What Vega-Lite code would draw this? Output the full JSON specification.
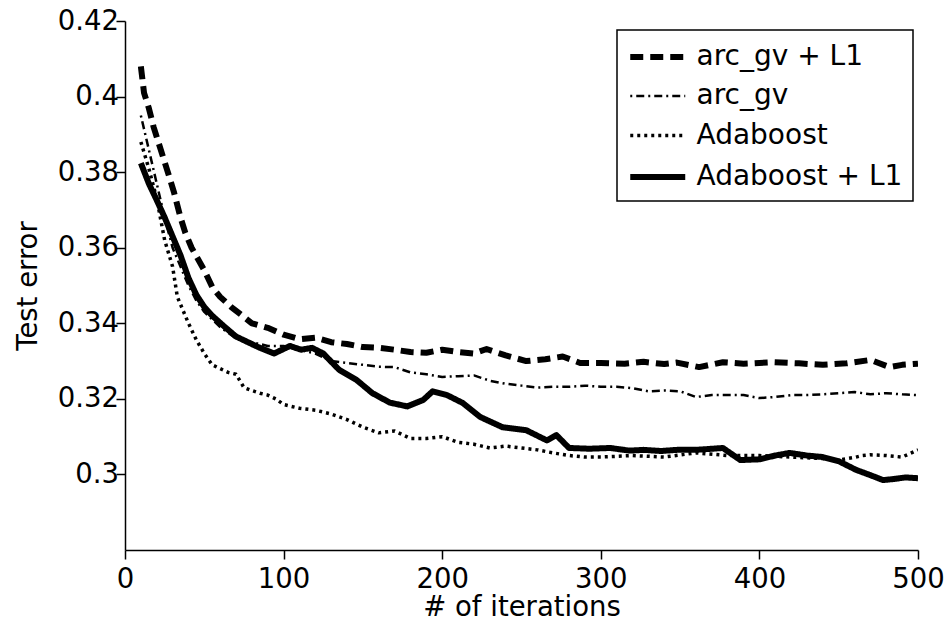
{
  "$schema": "https://vega.github.io/schema/vega-lite/v6.json",
  "width": 793,
  "height": 529,
  "autosize": "none",
  "padding": {"left": 125, "top": 21, "right": 31, "bottom": 71},
  "background": "white",
  "config": {
    "view": {"stroke": null},
    "font": "DejaVu Sans",
    "axis": {
      "grid": false,
      "domainColor": "black",
      "domainWidth": 1.5,
      "tickColor": "black",
      "tickWidth": 1.5,
      "tickSize": 9,
      "labelFlush": false,
      "labelFont": "DejaVu Sans",
      "labelFontSize": 27.5,
      "labelColor": "black",
      "titleFont": "DejaVu Sans",
      "titleFontSize": 27.5,
      "titleFontWeight": "normal",
      "titleColor": "black"
    },
    "legend": {
      "orient": "none",
      "legendX": 492,
      "legendY": 9,
      "title": null,
      "symbolType": "M-1,0H3",
      "symbolSize": 756,
      "symbolStrokeColor": "black",
      "symbolFillColor": "transparent",
      "labelFont": "DejaVu Sans",
      "labelFontSize": 28,
      "labelColor": "black",
      "labelLimit": 500,
      "labelOffset": 35.5,
      "rowPadding": 10,
      "padding": 10,
      "strokeColor": "black",
      "strokeWidth": 1.5,
      "fillColor": "white",
      "cornerRadius": 0
    }
  },
  "data": {
    "values": [
      {"series": "arc_gv + L1", "iter": 10, "err": 0.408},
      {"series": "arc_gv + L1", "iter": 12, "err": 0.401},
      {"series": "arc_gv + L1", "iter": 15, "err": 0.397},
      {"series": "arc_gv + L1", "iter": 18, "err": 0.392},
      {"series": "arc_gv + L1", "iter": 21, "err": 0.388},
      {"series": "arc_gv + L1", "iter": 24, "err": 0.384},
      {"series": "arc_gv + L1", "iter": 27, "err": 0.380},
      {"series": "arc_gv + L1", "iter": 31, "err": 0.3745},
      {"series": "arc_gv + L1", "iter": 35, "err": 0.368},
      {"series": "arc_gv + L1", "iter": 38, "err": 0.364},
      {"series": "arc_gv + L1", "iter": 42, "err": 0.360},
      {"series": "arc_gv + L1", "iter": 46, "err": 0.357},
      {"series": "arc_gv + L1", "iter": 50, "err": 0.354},
      {"series": "arc_gv + L1", "iter": 55, "err": 0.3496},
      {"series": "arc_gv + L1", "iter": 60, "err": 0.347},
      {"series": "arc_gv + L1", "iter": 67, "err": 0.3443},
      {"series": "arc_gv + L1", "iter": 74, "err": 0.342},
      {"series": "arc_gv + L1", "iter": 80, "err": 0.340},
      {"series": "arc_gv + L1", "iter": 90, "err": 0.3388},
      {"series": "arc_gv + L1", "iter": 100, "err": 0.337},
      {"series": "arc_gv + L1", "iter": 110, "err": 0.3358},
      {"series": "arc_gv + L1", "iter": 120, "err": 0.3362},
      {"series": "arc_gv + L1", "iter": 130, "err": 0.335},
      {"series": "arc_gv + L1", "iter": 140, "err": 0.3345},
      {"series": "arc_gv + L1", "iter": 150, "err": 0.3337},
      {"series": "arc_gv + L1", "iter": 160, "err": 0.3335},
      {"series": "arc_gv + L1", "iter": 170, "err": 0.333},
      {"series": "arc_gv + L1", "iter": 180, "err": 0.3324},
      {"series": "arc_gv + L1", "iter": 190, "err": 0.3322},
      {"series": "arc_gv + L1", "iter": 200, "err": 0.333},
      {"series": "arc_gv + L1", "iter": 210, "err": 0.3324},
      {"series": "arc_gv + L1", "iter": 220, "err": 0.332},
      {"series": "arc_gv + L1", "iter": 228, "err": 0.3332},
      {"series": "arc_gv + L1", "iter": 240, "err": 0.3315},
      {"series": "arc_gv + L1", "iter": 253, "err": 0.330},
      {"series": "arc_gv + L1", "iter": 265, "err": 0.3305},
      {"series": "arc_gv + L1", "iter": 276, "err": 0.3312},
      {"series": "arc_gv + L1", "iter": 287, "err": 0.3295},
      {"series": "arc_gv + L1", "iter": 300, "err": 0.3295},
      {"series": "arc_gv + L1", "iter": 315, "err": 0.3293},
      {"series": "arc_gv + L1", "iter": 327, "err": 0.3298},
      {"series": "arc_gv + L1", "iter": 340, "err": 0.3292},
      {"series": "arc_gv + L1", "iter": 348, "err": 0.3296},
      {"series": "arc_gv + L1", "iter": 362, "err": 0.3284},
      {"series": "arc_gv + L1", "iter": 377, "err": 0.3297},
      {"series": "arc_gv + L1", "iter": 390, "err": 0.3293},
      {"series": "arc_gv + L1", "iter": 409, "err": 0.3297},
      {"series": "arc_gv + L1", "iter": 425, "err": 0.3294},
      {"series": "arc_gv + L1", "iter": 440, "err": 0.329},
      {"series": "arc_gv + L1", "iter": 455, "err": 0.3294},
      {"series": "arc_gv + L1", "iter": 470, "err": 0.3303},
      {"series": "arc_gv + L1", "iter": 482, "err": 0.3284},
      {"series": "arc_gv + L1", "iter": 490, "err": 0.329},
      {"series": "arc_gv + L1", "iter": 500, "err": 0.3293},

      {"series": "arc_gv", "iter": 10, "err": 0.395},
      {"series": "arc_gv", "iter": 15, "err": 0.386},
      {"series": "arc_gv", "iter": 20, "err": 0.377},
      {"series": "arc_gv", "iter": 25, "err": 0.368},
      {"series": "arc_gv", "iter": 30, "err": 0.360},
      {"series": "arc_gv", "iter": 35, "err": 0.355},
      {"series": "arc_gv", "iter": 40, "err": 0.350},
      {"series": "arc_gv", "iter": 45, "err": 0.346},
      {"series": "arc_gv", "iter": 50, "err": 0.343},
      {"series": "arc_gv", "iter": 60, "err": 0.339},
      {"series": "arc_gv", "iter": 70, "err": 0.336},
      {"series": "arc_gv", "iter": 80, "err": 0.335},
      {"series": "arc_gv", "iter": 90, "err": 0.334},
      {"series": "arc_gv", "iter": 100, "err": 0.334},
      {"series": "arc_gv", "iter": 110, "err": 0.333},
      {"series": "arc_gv", "iter": 120, "err": 0.332},
      {"series": "arc_gv", "iter": 130, "err": 0.330},
      {"series": "arc_gv", "iter": 140, "err": 0.3295},
      {"series": "arc_gv", "iter": 150, "err": 0.329},
      {"series": "arc_gv", "iter": 160, "err": 0.3285},
      {"series": "arc_gv", "iter": 170, "err": 0.3284},
      {"series": "arc_gv", "iter": 180, "err": 0.327},
      {"series": "arc_gv", "iter": 190, "err": 0.3265},
      {"series": "arc_gv", "iter": 200, "err": 0.3258},
      {"series": "arc_gv", "iter": 210, "err": 0.326},
      {"series": "arc_gv", "iter": 220, "err": 0.3262},
      {"series": "arc_gv", "iter": 230, "err": 0.3248},
      {"series": "arc_gv", "iter": 240, "err": 0.324},
      {"series": "arc_gv", "iter": 250, "err": 0.3235},
      {"series": "arc_gv", "iter": 260, "err": 0.323},
      {"series": "arc_gv", "iter": 270, "err": 0.3232},
      {"series": "arc_gv", "iter": 280, "err": 0.3232},
      {"series": "arc_gv", "iter": 290, "err": 0.3235},
      {"series": "arc_gv", "iter": 300, "err": 0.3232},
      {"series": "arc_gv", "iter": 310, "err": 0.3232},
      {"series": "arc_gv", "iter": 320, "err": 0.3228},
      {"series": "arc_gv", "iter": 330, "err": 0.322},
      {"series": "arc_gv", "iter": 340, "err": 0.3222},
      {"series": "arc_gv", "iter": 350, "err": 0.322},
      {"series": "arc_gv", "iter": 360, "err": 0.3205},
      {"series": "arc_gv", "iter": 370, "err": 0.321},
      {"series": "arc_gv", "iter": 380, "err": 0.321},
      {"series": "arc_gv", "iter": 390, "err": 0.321},
      {"series": "arc_gv", "iter": 400, "err": 0.3202},
      {"series": "arc_gv", "iter": 410, "err": 0.3205},
      {"series": "arc_gv", "iter": 420, "err": 0.321},
      {"series": "arc_gv", "iter": 430, "err": 0.321},
      {"series": "arc_gv", "iter": 440, "err": 0.3212},
      {"series": "arc_gv", "iter": 450, "err": 0.3215},
      {"series": "arc_gv", "iter": 460, "err": 0.3218},
      {"series": "arc_gv", "iter": 470, "err": 0.3212},
      {"series": "arc_gv", "iter": 480, "err": 0.3215},
      {"series": "arc_gv", "iter": 490, "err": 0.3212},
      {"series": "arc_gv", "iter": 500, "err": 0.321},

      {"series": "Adaboost", "iter": 10, "err": 0.388},
      {"series": "Adaboost", "iter": 15, "err": 0.381},
      {"series": "Adaboost", "iter": 20, "err": 0.373},
      {"series": "Adaboost", "iter": 25, "err": 0.362},
      {"series": "Adaboost", "iter": 30, "err": 0.355},
      {"series": "Adaboost", "iter": 33, "err": 0.347},
      {"series": "Adaboost", "iter": 36, "err": 0.344},
      {"series": "Adaboost", "iter": 40, "err": 0.340},
      {"series": "Adaboost", "iter": 45, "err": 0.3356},
      {"series": "Adaboost", "iter": 50, "err": 0.332},
      {"series": "Adaboost", "iter": 55, "err": 0.329},
      {"series": "Adaboost", "iter": 60, "err": 0.328},
      {"series": "Adaboost", "iter": 65, "err": 0.327},
      {"series": "Adaboost", "iter": 70, "err": 0.3265},
      {"series": "Adaboost", "iter": 75, "err": 0.323},
      {"series": "Adaboost", "iter": 80, "err": 0.3222},
      {"series": "Adaboost", "iter": 85, "err": 0.3215},
      {"series": "Adaboost", "iter": 90, "err": 0.321},
      {"series": "Adaboost", "iter": 95, "err": 0.320},
      {"series": "Adaboost", "iter": 100, "err": 0.3185},
      {"series": "Adaboost", "iter": 110, "err": 0.3175},
      {"series": "Adaboost", "iter": 120, "err": 0.317},
      {"series": "Adaboost", "iter": 130, "err": 0.316},
      {"series": "Adaboost", "iter": 140, "err": 0.3145},
      {"series": "Adaboost", "iter": 150, "err": 0.3125},
      {"series": "Adaboost", "iter": 160, "err": 0.311},
      {"series": "Adaboost", "iter": 170, "err": 0.3115},
      {"series": "Adaboost", "iter": 180, "err": 0.3095},
      {"series": "Adaboost", "iter": 190, "err": 0.3095},
      {"series": "Adaboost", "iter": 200, "err": 0.310},
      {"series": "Adaboost", "iter": 210, "err": 0.3085},
      {"series": "Adaboost", "iter": 220, "err": 0.308},
      {"series": "Adaboost", "iter": 230, "err": 0.307},
      {"series": "Adaboost", "iter": 240, "err": 0.3075},
      {"series": "Adaboost", "iter": 250, "err": 0.307},
      {"series": "Adaboost", "iter": 260, "err": 0.3065},
      {"series": "Adaboost", "iter": 270, "err": 0.3057},
      {"series": "Adaboost", "iter": 280, "err": 0.305},
      {"series": "Adaboost", "iter": 290, "err": 0.3046},
      {"series": "Adaboost", "iter": 300, "err": 0.3046},
      {"series": "Adaboost", "iter": 320, "err": 0.305},
      {"series": "Adaboost", "iter": 340, "err": 0.3046},
      {"series": "Adaboost", "iter": 360, "err": 0.3057},
      {"series": "Adaboost", "iter": 380, "err": 0.305},
      {"series": "Adaboost", "iter": 400, "err": 0.305},
      {"series": "Adaboost", "iter": 420, "err": 0.3046},
      {"series": "Adaboost", "iter": 440, "err": 0.3042},
      {"series": "Adaboost", "iter": 450, "err": 0.3038},
      {"series": "Adaboost", "iter": 460, "err": 0.3045},
      {"series": "Adaboost", "iter": 465, "err": 0.305},
      {"series": "Adaboost", "iter": 470, "err": 0.3052},
      {"series": "Adaboost", "iter": 480, "err": 0.305},
      {"series": "Adaboost", "iter": 490, "err": 0.3046},
      {"series": "Adaboost", "iter": 500, "err": 0.3065},

      {"series": "Adaboost + L1", "iter": 10, "err": 0.3824},
      {"series": "Adaboost + L1", "iter": 15, "err": 0.377},
      {"series": "Adaboost + L1", "iter": 20, "err": 0.3726},
      {"series": "Adaboost + L1", "iter": 25, "err": 0.368},
      {"series": "Adaboost + L1", "iter": 30, "err": 0.363},
      {"series": "Adaboost + L1", "iter": 35, "err": 0.358},
      {"series": "Adaboost + L1", "iter": 40, "err": 0.352},
      {"series": "Adaboost + L1", "iter": 45, "err": 0.3475},
      {"series": "Adaboost + L1", "iter": 50, "err": 0.3443},
      {"series": "Adaboost + L1", "iter": 55, "err": 0.342},
      {"series": "Adaboost + L1", "iter": 63, "err": 0.339},
      {"series": "Adaboost + L1", "iter": 70, "err": 0.3365},
      {"series": "Adaboost + L1", "iter": 75, "err": 0.3355},
      {"series": "Adaboost + L1", "iter": 84, "err": 0.3337},
      {"series": "Adaboost + L1", "iter": 94, "err": 0.332},
      {"series": "Adaboost + L1", "iter": 104, "err": 0.334},
      {"series": "Adaboost + L1", "iter": 111, "err": 0.333},
      {"series": "Adaboost + L1", "iter": 118, "err": 0.3335},
      {"series": "Adaboost + L1", "iter": 125, "err": 0.332},
      {"series": "Adaboost + L1", "iter": 135, "err": 0.3277},
      {"series": "Adaboost + L1", "iter": 146, "err": 0.325},
      {"series": "Adaboost + L1", "iter": 156, "err": 0.3215},
      {"series": "Adaboost + L1", "iter": 167, "err": 0.319},
      {"series": "Adaboost + L1", "iter": 178, "err": 0.318},
      {"series": "Adaboost + L1", "iter": 188, "err": 0.3197},
      {"series": "Adaboost + L1", "iter": 194, "err": 0.322},
      {"series": "Adaboost + L1", "iter": 203, "err": 0.321},
      {"series": "Adaboost + L1", "iter": 213, "err": 0.3189},
      {"series": "Adaboost + L1", "iter": 224, "err": 0.3152},
      {"series": "Adaboost + L1", "iter": 238, "err": 0.3125},
      {"series": "Adaboost + L1", "iter": 253, "err": 0.3117},
      {"series": "Adaboost + L1", "iter": 266, "err": 0.309},
      {"series": "Adaboost + L1", "iter": 272, "err": 0.3104},
      {"series": "Adaboost + L1", "iter": 280, "err": 0.307},
      {"series": "Adaboost + L1", "iter": 293, "err": 0.3068},
      {"series": "Adaboost + L1", "iter": 306, "err": 0.307},
      {"series": "Adaboost + L1", "iter": 318, "err": 0.3063},
      {"series": "Adaboost + L1", "iter": 327, "err": 0.3065},
      {"series": "Adaboost + L1", "iter": 338, "err": 0.3062},
      {"series": "Adaboost + L1", "iter": 348, "err": 0.3065},
      {"series": "Adaboost + L1", "iter": 360, "err": 0.3065},
      {"series": "Adaboost + L1", "iter": 377, "err": 0.307},
      {"series": "Adaboost + L1", "iter": 388, "err": 0.3038},
      {"series": "Adaboost + L1", "iter": 400, "err": 0.304},
      {"series": "Adaboost + L1", "iter": 410, "err": 0.305},
      {"series": "Adaboost + L1", "iter": 419, "err": 0.3057},
      {"series": "Adaboost + L1", "iter": 430, "err": 0.305},
      {"series": "Adaboost + L1", "iter": 440, "err": 0.3046},
      {"series": "Adaboost + L1", "iter": 450, "err": 0.3035},
      {"series": "Adaboost + L1", "iter": 461, "err": 0.3012},
      {"series": "Adaboost + L1", "iter": 470, "err": 0.2998},
      {"series": "Adaboost + L1", "iter": 478, "err": 0.2985},
      {"series": "Adaboost + L1", "iter": 485, "err": 0.2988},
      {"series": "Adaboost + L1", "iter": 492, "err": 0.2992},
      {"series": "Adaboost + L1", "iter": 500, "err": 0.299}
    ]
  },
  "mark": {"type": "line", "color": "black", "strokeCap": "butt", "strokeJoin": "round", "clip": true},
  "encoding": {
    "x": {
      "field": "iter",
      "type": "quantitative",
      "scale": {"domain": [0, 500], "nice": false, "zero": false},
      "axis": {
        "values": [0, 100, 200, 300, 400, 500],
        "labelPadding": 6,
        "title": "# of iterations",
        "titleX": 396.5,
        "titleY": 57.5,
        "titleBaseline": "middle",
        "encode": {"ticks": {"update": {"y2": {"value": -9}}}}
      }
    },
    "y": {
      "field": "err",
      "type": "quantitative",
      "scale": {"domain": [0.28, 0.42], "nice": false, "zero": false},
      "axis": {
        "values": [0.3, 0.32, 0.34, 0.36, 0.38, 0.4, 0.42],
        "format": "~g",
        "labelPadding": -2.5,
        "title": "Test error",
        "titleX": -97,
        "titleY": 264.5,
        "titleBaseline": "middle",
        "titleAngle": -90,
        "encode": {"ticks": {"update": {"x2": {"value": 9}}}}
      }
    },
    "strokeDash": {
      "field": "series",
      "type": "nominal",
      "scale": {
        "domain": ["arc_gv + L1", "arc_gv", "Adaboost", "Adaboost + L1"],
        "range": [[13, 7], [2, 4, 8, 4], [3, 4], [1, 0]]
      }
    },
    "strokeWidth": {
      "field": "series",
      "type": "nominal",
      "scale": {
        "type": "ordinal",
        "domain": ["arc_gv + L1", "arc_gv", "Adaboost", "Adaboost + L1"],
        "range": [6, 2.5, 3.5, 6]
      }
    }
  }
}
